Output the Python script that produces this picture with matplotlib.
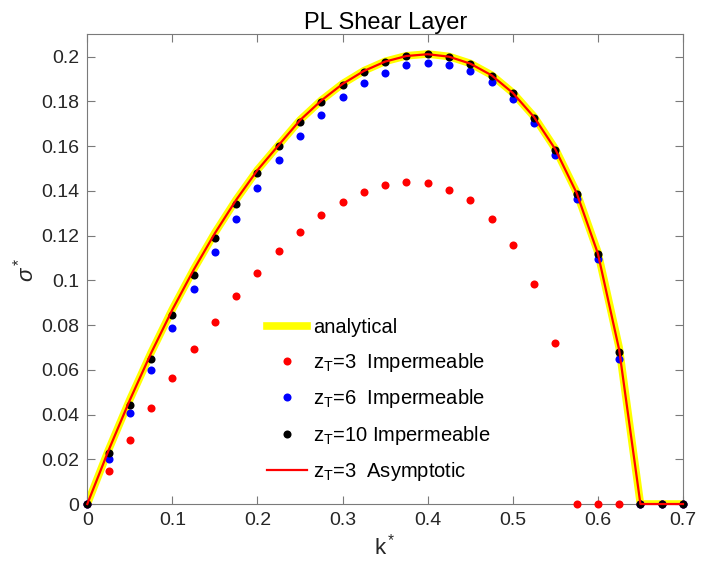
import matplotlib
matplotlib.use("Agg")
import matplotlib.pyplot as plt

plt.rcParams['font.family'] = ['Liberation Sans', 'DejaVu Sans']
plt.rcParams['mathtext.fontset'] = 'custom'
plt.rcParams['mathtext.rm'] = 'Liberation Sans'
plt.rcParams['mathtext.it'] = 'Liberation Sans:italic'

k = [0.0, 0.025, 0.05, 0.075, 0.1, 0.125, 0.15, 0.175, 0.2, 0.225, 0.25, 0.275,
     0.3, 0.325, 0.35, 0.375, 0.4, 0.425, 0.45, 0.475, 0.5, 0.525, 0.55, 0.575,
     0.6, 0.625, 0.65, 0.675, 0.7]

analytical = [0.0, 0.0242, 0.0467, 0.0677, 0.0871, 0.1049, 0.1213, 0.1361, 0.1494,
              0.1606, 0.1717, 0.1805, 0.1879, 0.1937, 0.1979, 0.2004, 0.2012, 0.2001,
              0.1970, 0.1918, 0.1839, 0.1732, 0.1588, 0.1394, 0.1126, 0.0700, 0.0,
              0.0, 0.0]

asymptotic_z3 = [0.0, 0.0240, 0.0465, 0.0675, 0.0869, 0.1047, 0.1211, 0.1360, 0.1493,
                 0.1605, 0.1716, 0.1804, 0.1878, 0.1936, 0.1978, 0.2003, 0.2011, 0.2000,
                 0.1969, 0.1917, 0.1838, 0.1730, 0.1586, 0.1391, 0.1120, 0.0690, 0.0,
                 0.0, 0.0]

imp_z3 = [0.0, 0.0146, 0.0286, 0.0428, 0.0562, 0.0691, 0.0815, 0.0930, 0.1035,
          0.1132, 0.1217, 0.1292, 0.1350, 0.1396, 0.1427, 0.1439, 0.1435, 0.1406,
          0.1357, 0.1275, 0.1156, 0.0985, 0.0718, 0.0, 0.0, 0.0, 0.0, 0.0, 0.0]

imp_z6 = [0.0, 0.0201, 0.0405, 0.0599, 0.0785, 0.0960, 0.1125, 0.1275, 0.1412,
          0.1536, 0.1646, 0.1739, 0.1819, 0.1883, 0.1929, 0.1961, 0.1970, 0.1965,
          0.1937, 0.1886, 0.1809, 0.1703, 0.1560, 0.1364, 0.1094, 0.0648, 0.0,
          0.0, 0.0]

imp_z10 = [0.0, 0.0227, 0.0441, 0.0648, 0.0843, 0.1023, 0.1190, 0.1342, 0.1478,
           0.1600, 0.1706, 0.1798, 0.1873, 0.1932, 0.1976, 0.2002, 0.2010, 0.2000,
           0.1968, 0.1914, 0.1838, 0.1725, 0.1582, 0.1385, 0.1116, 0.0678, 0.0,
           0.0, 0.0]

xticks = [0, 0.1, 0.2, 0.3, 0.4, 0.5, 0.6, 0.7]
xticklabels = ['0', '0.1', '0.2', '0.3', '0.4', '0.5', '0.6', '0.7']
yticks = [0, 0.02, 0.04, 0.06, 0.08, 0.1, 0.12, 0.14, 0.16, 0.18, 0.2]
yticklabels = ['0', '0.02', '0.04', '0.06', '0.08', '0.1', '0.12', '0.14', '0.16', '0.18', '0.2']

labels = ['analytical',
          r'z$_\mathregular{T}$=3  Impermeable',
          r'z$_\mathregular{T}$=6  Impermeable',
          r'z$_\mathregular{T}$=10 Impermeable',
          r'z$_\mathregular{T}$=3  Asymptotic']

fig = plt.figure(figsize=(7.15, 5.69), dpi=100)
ax = fig.add_axes([0.1221, 0.1142, 0.9552 - 0.1221, 0.9397 - 0.1142])

ms = 5.8
ax.plot(k, analytical, color='#ffff00', lw=5.5, label=labels[0], zorder=2)
ax.plot(k, imp_z3, 'o', color='#ff0000', ms=ms, mew=0, label=labels[1], clip_on=False, zorder=3)
ax.plot(k, imp_z6, 'o', color='#0000ff', ms=ms, mew=0, label=labels[2], clip_on=False, zorder=4)
ax.plot(k, imp_z10, 'o', color='#000000', ms=ms, mew=0, label=labels[3], clip_on=False, zorder=5)
ax.plot(k, asymptotic_z3, color='#ff0000', lw=1.6, label=labels[4], clip_on=False, zorder=6)

ax.set_xlim(0, 0.7)
ax.set_ylim(0, 0.21)
ax.set_xticks(xticks)
ax.set_xticklabels(xticklabels)
ax.set_yticks(yticks)
ax.set_yticklabels(yticklabels)

textc = '#262626'
for s in ax.spines.values():
    s.set_color('#7a7a7a')
    s.set_linewidth(0.8)
ax.tick_params(direction='in', length=6, width=0.8, color='#7a7a7a',
               labelsize=14, labelcolor=textc, top=True, right=True, pad=6)

ax.set_title('PL Shear Layer', fontsize=17, color='#000000', pad=4)
ax.set_xlabel('k$^*$', fontsize=16, color=textc, labelpad=3)
ax.set_ylabel(r'$\sigma^*$', fontsize=16, color=textc, labelpad=2)

leg = ax.legend(loc='upper left', bbox_to_anchor=(0.3013, 0.395), frameon=False,
                fontsize=14.5, handlelength=2.0, handletextpad=0.3, labelspacing=0.67,
                borderaxespad=0, borderpad=0)
for t in leg.get_texts():
    t.set_color('#000000')

fig.savefig('out.png', dpi=100)
